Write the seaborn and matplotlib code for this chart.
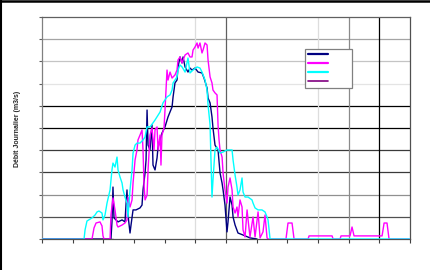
import matplotlib
matplotlib.use("Agg")
import matplotlib.pyplot as plt
from matplotlib.lines import Line2D
import seaborn as sns
import pandas as pd

# ---- data (day of year, daily discharge) ----
navy_days = [0, 68.4, 69.4, 70.4, 71.4, 75.4, 79.4, 82.3, 83.3, 84.3, 85.3, 87.3, 88.3, 90.3, 93.2,
             97.2, 99.2, 100.2, 102.2, 103.2, 104.2, 105.2, 107.1, 109.1, 110.1, 112.1, 114.1, 115.1,
             117.1, 119.0, 122.0, 125.0, 129.0, 130.0, 131.9, 133.9, 134.9, 136.9, 138.9, 139.9, 141.9,
             144.8, 146.8, 148.8, 151.8, 154.8, 158.7, 160.7, 163.7, 164.7, 166.7, 168.6, 169.6, 171.6,
             174.6, 176.6, 178.6, 179.6, 181.5, 183.5, 184.5, 186.5, 188.5, 189.5, 191.5, 194.4, 199.4,
             206.3, 213.3]
navy_vals = [0, 0, 0.77, 2.34, 0.95, 0.77, 0.86, 0.77, 1.53, 2.21, 1.08, 0.27, 0.63, 1.31, 1.31,
             1.40, 1.53, 2.21, 2.97, 3.56, 5.81, 4.23, 4.01, 5.14, 3.33, 3.11, 3.65, 4.14,
             4.46, 4.77, 5.05, 5.50, 5.95, 6.40, 7.03, 7.16, 7.75, 8.20, 7.93, 8.20, 7.75,
             7.52, 7.70, 7.61, 7.70, 7.52, 7.48, 7.25, 6.80, 6.35, 6.13, 5.50, 5.00, 4.23,
             4.01, 2.97, 2.52, 2.21, 1.53, 0.32, 0.77, 1.89, 1.53, 0.99, 0.63, 0.27, 0.18,
             0.05, 0]

magenta_days = [0, 49.6, 51.6, 53.6, 57.5, 59.5, 60.5, 61.5, 67.5, 68.4, 70.4, 72.4, 74.4, 75.4,
                79.4, 82.3, 84.3, 85.3, 87.3, 89.3, 90.3, 92.3, 94.2, 95.2, 97.2, 99.2, 100.2, 101.2,
                102.2, 104.2, 105.2, 107.1, 109.1, 111.1, 112.1, 114.1, 115.1, 117.1, 118.0, 119.0,
                121.0, 122.0, 123.0, 124.0, 125.0, 127.0, 129.0, 131.9, 133.9, 134.9, 136.9, 138.9,
                141.9, 144.8, 146.8, 148.8, 149.8, 151.8, 153.8, 154.8, 156.7, 158.7, 159.7, 161.7,
                163.7, 164.7, 166.7, 168.6, 169.6, 171.6, 173.6, 174.6, 175.6, 176.6, 178.6, 179.6,
                181.5, 183.5, 184.5, 186.5, 188.5, 189.5, 191.5, 193.4, 194.4, 196.4, 198.4, 199.4,
                201.4, 203.4, 204.4, 206.3, 209.3, 211.3, 214.3, 216.3, 219.2, 221.2, 223.2, 224.2,
                242.0, 244.0, 248.0, 250.0, 263.9, 264.9, 287.7, 288.7, 295.6, 296.6, 305.5, 307.5,
                309.5, 337.3, 339.3, 342.2, 344.2, 365]
magenta_vals = [0, 0, 0.50, 0.72, 0.77, 0.59, 0.14, 0, 0, 1.08, 1.85, 1.31, 0.63, 0.54,
                0.63, 0.72, 0.86, 1.89, 1.44, 1.76, 2.52, 3.56, 4.01, 4.46, 4.68, 4.91, 4.01, 2.43,
                1.76, 1.98, 3.11, 4.68, 5.00, 4.01, 4.91, 5.05, 4.01, 4.68, 3.33, 4.68,
                5.00, 5.81, 6.71, 7.61, 7.16, 7.52, 7.25, 7.39, 7.61, 8.06, 8.20, 7.93,
                8.29, 8.38, 8.20, 8.20, 8.51, 8.65, 8.83, 8.60, 8.83, 8.38, 8.51, 8.83,
                8.74, 8.06, 7.30, 7.03, 6.71, 6.58, 6.49, 5.14, 4.46, 4.01, 3.69, 2.97,
                2.21, 1.62, 2.34, 2.75, 2.21, 1.44, 1.17, 1.44, 0.99, 1.76, 1.44, 0.41,
                0.09, 1.31, 0.86, 0.09, 0.99, 0.09, 1.22, 0.05, 0.32, 1.08, 0.05, 0,
                0, 0.72, 0.72, 0, 0, 0.14, 0.14, 0, 0, 0.14, 0.14, 0.54,
                0.14, 0.14, 0.72, 0.72, 0, 0]

cyan_days = [0, 41.7, 42.7, 44.6, 49.6, 52.6, 54.6, 56.5, 59.5, 60.5, 62.5, 64.5, 67.5, 69.4, 70.4,
             72.4, 74.4, 75.4, 77.4, 79.4, 80.4, 82.3, 84.3, 85.3, 87.3, 89.3, 90.3, 92.3, 94.2,
             97.2, 100.2, 102.2, 104.2, 107.1, 110.1, 112.1, 117.1, 120.0, 124.0, 127.0, 129.0,
             130.0, 131.9, 133.9, 134.9, 136.9, 138.9, 141.9, 144.8, 146.8, 149.8, 153.8, 156.7,
             158.7, 161.7, 163.7, 164.7, 166.7, 167.6, 168.6, 169.6, 171.6, 173.6, 176.6, 179.6,
             183.5, 188.5, 189.5, 191.5, 193.4, 194.4, 196.4, 198.4, 199.4, 201.4, 204.4, 208.3,
             209.3, 211.3, 214.3, 218.2, 221.2, 223.2, 224.2, 226.2, 365]
cyan_vals = [0, 0, 0.41, 0.81, 0.95, 1.08, 1.22, 1.26, 1.17, 0.86, 1.08, 1.62, 2.21, 3.11, 3.42,
             3.24, 3.69, 3.11, 2.79, 2.52, 2.21, 1.89, 1.62, 0.99, 2.21, 3.11, 3.87, 4.23, 4.32,
             4.32, 4.46, 4.59, 5.05, 5.05, 5.23, 5.36, 5.72, 6.13, 6.40, 6.49, 6.71,
             7.03, 7.16, 7.30, 7.61, 7.84, 7.75, 7.52, 8.15, 7.48, 7.61, 7.75, 7.70,
             7.52, 7.16, 6.71, 6.04, 5.14, 3.56, 1.89, 2.66, 4.01, 4.14, 3.87, 3.92,
             4.01, 4.01, 3.56, 2.88, 2.34, 1.98, 2.21, 2.75, 2.12, 1.89, 1.89, 1.76,
             1.62, 1.40, 1.31, 1.31, 1.22, 0.99, 0.86, 0, 0]

purple_days = [0, 70]
purple_vals = [0, 0]

series_names = ["s1", "s2", "s3", "s4"]
series_colors = ["#000080", "#ff00ff", "#00ffff", "#800080"]

# ---- figure ----
sns.set_style("white")
plt.rcParams["font.family"] = ["Liberation Sans", "DejaVu Sans"]

fig = plt.figure(figsize=(4.31, 2.70), dpi=100)
ax = fig.add_axes([42 / 431, 31 / 270, 368 / 431, 222 / 270])

ax.set_xlim(0, 365)
ax.set_ylim(0, 10)

# horizontal grid (varying shades as in the reference)
hcolors = {1: "#505050", 2: "#909090", 3: "#3a3a3a", 4: "#3a3a3a", 5: "#000000",
           6: "#000000", 7: "#e4e4e4", 8: "#c4c4c4", 9: "#a4a4a4"}
for v, c in hcolors.items():
    ax.axhline(v, color=c, lw=0.9, zorder=0.5)
month = 365 / 12
vcolors = {5: "#dddddd", 6: "#606060", 9: "#dddddd", 10: "#8a8a8a", 11: "#000000"}
for m, c in vcolors.items():
    ax.axvline(m * month, color=c, lw=0.9, zorder=0.5)

data = [(navy_days, navy_vals), (magenta_days, magenta_vals),
        (cyan_days, cyan_vals), (purple_days, purple_vals)]
for (d, v), name, col, z in zip(data, series_names, series_colors, [2, 3, 4, 5]):
    df = pd.DataFrame({"day": d, "q": v})
    sns.lineplot(data=df, x="day", y="q", color=col, lw=1.0, ax=ax,
                 estimator=None, sort=False, zorder=z, legend=False)

ax.set_xlabel("")
ax.set_ylabel("")
ax.set_xticks([i * month for i in range(13)])
ax.set_yticks(range(11))
ax.set_xticklabels([])
ax.set_yticklabels([])
ax.tick_params(axis="x", direction="out", length=3, width=0.8, color="#404040", bottom=True)
ax.tick_params(axis="y", direction="out", length=2, width=0.8, color="#606060", left=True)
for side, col in [("left", "#808080"), ("bottom", "#505050"), ("top", "#606060"), ("right", "#505050")]:
    ax.spines[side].set_color(col)
    ax.spines[side].set_linewidth(0.9)
    ax.spines[side].set_visible(True)

fig.text(18 / 431, 1 - 129 / 270, "Débit Journalier (m3/s)", rotation=90,
         fontsize=5, fontweight="bold", ha="center", va="center")

handles = [Line2D([], [], color=c, lw=1.6 if i < 3 else 1.2) for i, c in enumerate(series_colors)]
leg = ax.legend(handles, ["        "] * 4, loc="upper left",
                bbox_to_anchor=(305 / 431, 1 - 49 / 270), bbox_transform=fig.transFigure,
                fontsize=6, handlelength=2.4, handletextpad=0.3, labelspacing=0.12,
                borderpad=0.3, borderaxespad=0, fancybox=False, framealpha=1,
                edgecolor="#808080")
leg.get_frame().set_linewidth(0.9)

# figure border (top and left)
fig.add_artist(Line2D([0, 1], [0.996, 0.996], transform=fig.transFigure, color="black", lw=1.8))
fig.add_artist(Line2D([0.002, 0.002], [0, 1], transform=fig.transFigure, color="black", lw=1.5))

fig.savefig("out.png", dpi=100)
